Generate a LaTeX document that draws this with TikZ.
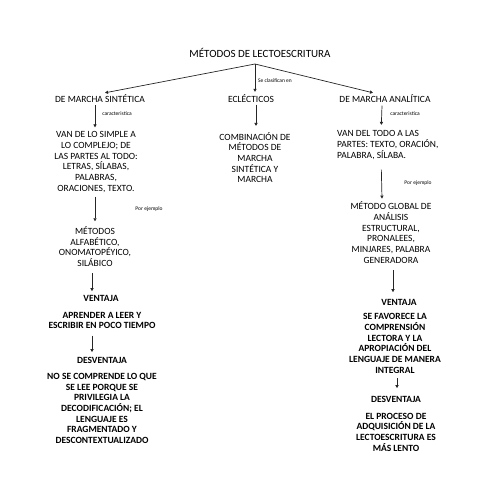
\documentclass[tikz,border=0pt]{standalone}
\usepackage{fontspec}
\setmainfont{Carlito}
\usetikzlibrary{arrows.meta}

\tikzset{
  txt/.style={inner sep=0pt, align=center, font={\fontsize{9.5pt}{10.7pt}\selectfont}},
  bld/.style={txt, font={\fontsize{9.5pt}{10.7pt}\selectfont\bfseries}},
  lbl/.style={inner sep=0pt, font={\fontsize{5.5pt}{7pt}\selectfont}},
  arr/.style={black!85, line width=0.7pt, arrows={-{Triangle[width=3.2pt,length=3pt]}}}
}

\begin{document}
\begin{tikzpicture}[x=1pt,y=-1pt]
  \useasboundingbox (0,0) rectangle (495,495);

  % top
  \node[txt, font={\fontsize{11pt}{13pt}\selectfont}] (title) at (260,53) {MÉTODOS DE LECTOESCRITURA};
  \coordinate (fork) at (255,64);
  \node[txt] (synth) at (100,99) {DE MARCHA SINTÉTICA};
  \node[txt] (eclec) at (251,99) {ECLÉCTICOS};
  \node[txt] (anal) at (385,99) {DE MARCHA ANALÍTICA};
  \draw[arr] (fork) -- ([xshift=5pt,yshift=2pt]synth.north);
  \draw[arr] (fork) -- ([xshift=4pt,yshift=3pt]eclec.north);
  \draw[arr] (fork) -- ([xshift=-12pt,yshift=2pt]anal.north);
  \node[lbl] (clasif) at (275,81) {Se clasifican en};

  % sintetica
  \node[txt] (vanS) at (96,162) {VAN DE LO SIMPLE A\\LO COMPLEJO; DE\\LAS PARTES AL TODO:\\LETRAS, SÍLABAS,\\PALABRAS,\\ORACIONES, TEXTO.};
  \node[txt] (metS) at (95,246.5) {MÉTODOS\\ALFABÉTICO,\\ONOMATOPÉYICO,\\SILÁBICO};
  \node[bld] (ventS) at (101,298) {VENTAJA};
  \node[bld] (aprend) at (102,320.5) {APRENDER A LEER Y\\ESCRIBIR EN POCO TIEMPO};
  \node[bld] (desvS) at (102,360) {DESVENTAJA};
  \node[bld] (nocomp) at (102,408.5) {NO SE COMPRENDE LO QUE\\SE LEE PORQUE SE\\PRIVILEGIA LA\\DECODIFICACIÓN; EL\\LENGUAJE ES\\FRAGMENTADO Y\\DESCONTEXTUALIZADO};
  \draw[arr] ([xshift=-5pt,yshift=-2pt]synth.south) -- ([xshift=-1pt,yshift=4pt]vanS.north);
  \node[lbl] (caracS) at (117,114) {caracteristica};
  \draw[arr] ([xshift=-1pt,yshift=-4pt]vanS.south) -- ([yshift=5pt]metS.north);
  \node[lbl] (ejS) at (149,209) {Por ejemplo};
  \draw[arr] ([xshift=-3pt,yshift=-6.5pt]metS.south) -- ([xshift=-9pt,yshift=3.5pt]ventS.north);
  \draw[arr] ([xshift=-10pt,yshift=-6.5pt]aprend.south) -- ([xshift=-10pt,yshift=4.5pt]desvS.north);

  % eclecticos
  \node[txt] (combi) at (255,157.5) {COMBINACIÓN DE\\MÉTODOS DE\\MARCHA\\SINTÉTICA Y\\MARCHA};
  \draw[arr] ([xshift=5pt,yshift=-1.5pt]eclec.south) -- ([xshift=1pt,yshift=6pt]combi.north);

  % analitica
  \node[txt, align=left, anchor=west] (vanA) at (337,145) {VAN DEL TODO A LAS\\PARTES: TEXTO, ORACIÓN,\\PALABRA, SÍLABA.};
  \node[txt] (metA) at (391,232.5) {MÉTODO GLOBAL DE\\ANÁLISIS\\ESTRUCTURAL,\\PRONALEES,\\MINJARES, PALABRA\\GENERADORA};
  \node[bld] (ventA) at (399,302) {VENTAJA};
  \node[bld] (favor) at (395,343.5) {SE FAVORECE LA\\COMPRENSIÓN\\LECTORA Y LA\\APROPIACIÓN DEL\\LENGUAJE DE MANERA\\INTEGRAL};
  \node[bld] (desvA) at (396,399) {DESVENTAJA};
  \node[bld] (proceso) at (396,432) {EL PROCESO DE\\ADQUISICIÓN DE LA\\LECTOESCRITURA ES\\MÁS LENTO};
  \draw[arr] ([xshift=-3pt,yshift=-2.5pt]anal.south) -- ([xshift=-6.5pt,yshift=5.5pt]vanA.north);
  \node[lbl] (caracA) at (405,114) {caracteristica};
  \draw[arr] ([xshift=-6.5pt,yshift=-10pt]vanA.south) -- ([xshift=-9pt,yshift=3pt]metA.north);
  \node[lbl] (ejA) at (418,183) {Por ejemplo};
  \draw[arr] ([xshift=2pt,yshift=-6.5pt]metA.south) -- ([xshift=-6pt,yshift=6.5pt]ventA.north);
  \draw[arr] ([xshift=2pt,yshift=-4.5pt]favor.south) -- ([xshift=1pt,yshift=7.5pt]desvA.north);
\end{tikzpicture}
\end{document}
